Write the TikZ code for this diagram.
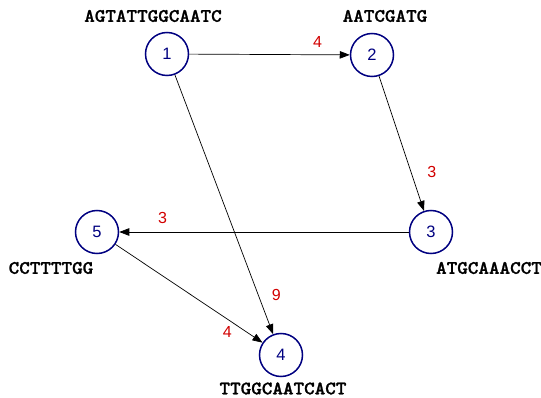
\documentclass[tikz,border=0pt]{standalone}
\usepackage{fontspec}
\setmainfont{Liberation Sans}
\newfontfamily\seqfont{lmmonolt10-bold}[Extension=.otf, FakeBold=1.2, FakeStretch=1.06]
\usetikzlibrary{arrows.meta}
\definecolor{navy}{RGB}{0,0,128}
\definecolor{lblred}{RGB}{210,0,0}
\tikzset{
  vert/.style={circle, draw=navy, line width=1.5pt, minimum size=43pt, inner sep=0pt, text=navy, font=\fontsize{16.5}{16.5}\selectfont},
  seq/.style={font=\seqfont\fontsize{19}{19}\selectfont, inner sep=0pt},
  elab/.style={text=lblred, font=\fontsize{16}{16}\selectfont, inner sep=0pt, anchor=center},
  edge/.style={draw=black, line width=0.7pt, -{Triangle[length=10pt,width=7.5pt]}}
}
\begin{document}
\begin{tikzpicture}[x=1pt,y=-1pt]
\useasboundingbox (0,0) rectangle (541,398);
\node[vert] (n1) at (167,54) {1};
\node[vert] (n2) at (372,55) {2};
\node[vert] (n3) at (431,232) {3};
\node[vert] (n4) at (281,355) {4};
\node[vert] (n5) at (97,232) {5};
\node[seq] (s1) at (153,16) {AGTATTGGCAATC};
\node[seq] (s2) at (385,16) {AATCGATG};
\node[seq] (s3) at (489,268) {ATGCAAACCT};
\node[seq] (s5) at (51,268) {CCTTTTGG};
\node[seq] (s4) at (283,388.5) {TTGGCAATCACT};
\draw[edge] (n1) -- node[elab, pos=0.80, yshift=13pt] (l12) {4} (n2);
\draw[edge] (n2) -- node[elab, pos=0.71, xshift=21pt] (l23) {3} (n3);
\draw[edge] (n3) -- node[elab, pos=0.85, yshift=14pt] (l35) {3} (n5);
\draw[edge] (n1) -- node[elab, pos=0.85, xshift=18pt] (l14) {9} (n4);
\draw[edge] (n5) -- node[elab, pos=0.76, yshift=-13pt] (l54) {4} (n4);
\end{tikzpicture}
\end{document}
